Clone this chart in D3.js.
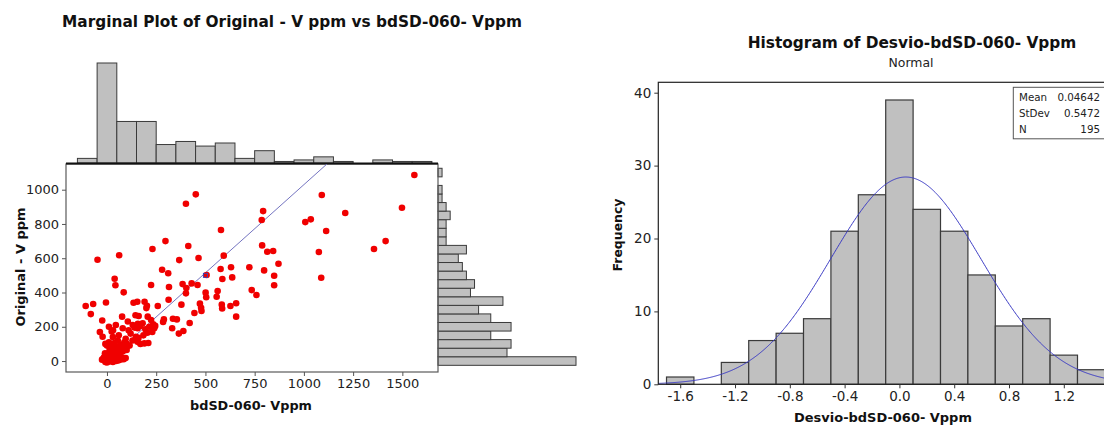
<!DOCTYPE html>
<html><head><meta charset="utf-8">
<script src="https://cdn.jsdelivr.net/npm/d3@7"></script>
<style>
body{margin:0;background:#fff}
svg{display:block}
text{font-family:"DejaVu Sans",Verdana,sans-serif}
</style>
</head><body>
<svg id="c" width="1104" height="426"></svg>
<script>
// ---------- Marginal plot data ----------
const scatterX = [-108,-70,-82,-48,-5,-24,-36,-22,62,39,43,85,31,24,77,106,135,154,145,161,157,191,200,203,224,231,258,280,297,311,315,313,285,289,331,335,355,365,388,378,367,384,401,413,401,403,451,465,430,444,420,460,472,478,480,506,501,504,562,557,579,593,577,586,583,585,630,636,627,656,656,723,735,759,786,793,788,798,814,844,849,849,871,1007,1035,1091,1113,1076,1088,1210,1356,1415,1498,1561,
207,80,131,156,224,240,190,147,181,
-12,-8,-5,-3,0,2,6,10,14,18,22,26,30,34,38,42,46,50,55,60,65,70,35,40,-18,-15,-1,5,16,45,75,85,95,-25,
5,12,20,28,35,42,48,55,62,70,80,90,-10,-5,15,100,30,
0,10,18,25,38,45,55,68,75,88,100,115,130,155,170,210,-8,
30,60,95,120,160,185,205,230,
10,45,110,140,170,195,215,235,245];
const scatterY = [321,333,274,591,342,237,169,142,617,480,442,401,179,173,259,231,340,346,267,263,218,346,309,323,444,654,321,533,700,512,432,358,228,243,191,247,243,160,175,329,589,449,918,671,395,426,973,601,453,280,222,444,335,311,292,502,399,372,409,375,765,615,537,479,329,307,547,488,321,337,259,547,414,385,823,875,675,529,638,642,498,442,568,811,827,969,759,636,486,864,654,700,895,1086,
259,191,210,191,239,191,103,142,220,
5,-5,12,2,-8,18,6,-2,14,22,3,10,-6,20,8,15,0,22,12,4,18,9,21,2,15,22,20,24,1,14,20,10,18,8,
40,55,35,62,45,30,68,50,40,60,55,70,45,30,70,65,28,
90,110,80,95,105,85,120,95,80,110,100,90,120,112,100,105,100,
140,150,130,160,135,150,165,170,
200,210,180,195,205,185,200,215,205];
const refLineX = [0, 1117];
const refLineY = [0, 1150];
const refMarkX = [500];
const refMarkY = [500];
const xTicks = [0,250,500,750,1000,1250,1500];
const yTicks = [0,200,400,600,800,1000];
const topCenters = [-100,0,100,200,300,400,500,600,700,800,900,1000,1100,1200,1300,1400,1500,1600];
const topCounts  = [3,65,27,27,12,14,11,13,3,8,1,2,4,1,0,2,1,1];
const rightCenters = [0,50,100,150,200,250,300,350,400,450,500,550,600,650,700,750,800,850,900,950,1000,1050,1100];
const rightCounts  = [34,17,18,13,18,13,10,16,8,9,7,6,5,7,2,2,2,3,2,1,1,0,1];

// ---------- Histogram data ----------
const histCenters = [-1.6,-1.4,-1.2,-1.0,-0.8,-0.6,-0.4,-0.2,0.0,0.2,0.4,0.6,0.8,1.0,1.2,1.4];
const histCounts  = [1,0,3,6,7,9,21,26,39,24,21,15,8,9,4,2];
const histXTicks = [-1.6,-1.2,-0.8,-0.4,0.0,0.4,0.8,1.2];
const histYTicks = [0,10,20,30,40];
const statLabels = ["Mean","StDev","N"];
const statValues = ["0.04642","0.5472","195"];
const fitMean = 0.04642, fitSd = 0.5472, fitN = 195, binW = 0.2;

const svg = d3.select("#c");
svg.append("rect").attr("width",1104).attr("height",426).attr("fill","#fff");

function fit(sel, w){
  const n = sel.node();
  const fs = parseFloat(sel.attr("font-size"));
  const len = n.getComputedTextLength();
  sel.attr("font-size", (fs*w/len).toFixed(2));
  return sel;
}

const BAR_FILL = "#c0c0c0", BAR_STROKE = "#3a3a3a", TXT = "#222";

// ===== Left: marginal plot =====
const L = {l:66, r:438, t:164, b:372};
const xS = d3.scaleLinear().domain([-208,1681]).range([L.l, L.r]);
const yS = d3.scaleLinear().domain([-64,1150]).range([L.b, L.t]);
const gL = svg.append("g");

// top marginal histogram
const topH = d3.scaleLinear().domain([0,65]).range([0,100]);
gL.append("g").selectAll("rect").data(topCenters.map((c,i)=>({c,n:topCounts[i]})).filter(d=>d.n>0))
  .join("rect")
  .attr("x", d=>xS(d.c-50)).attr("width", d=>xS(d.c+50)-xS(d.c-50))
  .attr("y", d=>L.t-1-topH(d.n)).attr("height", d=>topH(d.n))
  .attr("fill", BAR_FILL).attr("stroke", BAR_STROKE).attr("stroke-width",1);

// right marginal histogram
const rightW = d3.scaleLinear().domain([0,34]).range([0,138]);
gL.append("g").selectAll("rect").data(rightCenters.map((c,i)=>({c,n:rightCounts[i]})).filter(d=>d.n>0))
  .join("rect")
  .attr("x", L.r).attr("width", d=>rightW(d.n))
  .attr("y", d=>yS(d.c+25)).attr("height", d=>yS(d.c-25)-yS(d.c+25))
  .attr("fill", BAR_FILL).attr("stroke", BAR_STROKE).attr("stroke-width",1);

// frame
gL.append("rect").attr("x",L.l).attr("y",L.t).attr("width",L.r-L.l).attr("height",L.b-L.t)
  .attr("fill","none").attr("stroke","#5a5a5a").attr("stroke-width",1.2);
gL.append("line").attr("x1",L.l).attr("x2",L.r).attr("y1",L.t-0.5).attr("y2",L.t-0.5)
  .attr("stroke","#111").attr("stroke-width",2);

// reference line
const clipId = "clipL";
svg.append("clipPath").attr("id",clipId).append("rect")
  .attr("x",L.l).attr("y",L.t).attr("width",L.r-L.l).attr("height",L.b-L.t);
const gPlot = gL.append("g").attr("clip-path",`url(#${clipId})`);
gPlot.append("line")
  .attr("x1",xS(refLineX[0])).attr("y1",yS(refLineY[0]))
  .attr("x2",xS(refLineX[1])).attr("y2",yS(refLineY[1]))
  .attr("stroke","#7474c0").attr("stroke-width",1);

// points
gPlot.append("g").selectAll("circle").data(scatterX.map((x,i)=>[x,scatterY[i]]))
  .join("circle").attr("cx",d=>xS(d[0])).attr("cy",d=>yS(d[1])).attr("r",3.3)
  .attr("fill","#f00000");
gPlot.selectAll("rect.mk").data(refMarkX.map((x,i)=>[x,refMarkY[i]])).join("rect").attr("class","mk")
  .attr("x",d=>xS(d[0])-2).attr("y",d=>yS(d[1])-2).attr("width",4).attr("height",4)
  .attr("fill","none").attr("stroke","#4040b0").attr("stroke-width",1);

// axes
const axB = gL.append("g").attr("transform",`translate(0,${L.b})`)
  .call(d3.axisBottom(xS).tickValues(xTicks).tickSize(4).tickPadding(3).tickFormat(d3.format("d")));
const axLft = gL.append("g").attr("transform",`translate(${L.l},0)`)
  .call(d3.axisLeft(yS).tickValues(yTicks).tickSize(4).tickPadding(3).tickFormat(d3.format("d")));
[axB, axLft].forEach(a=>{
  a.select(".domain").remove();
  a.selectAll(".tick line").attr("stroke","#555");
  a.selectAll(".tick text").attr("fill",TXT).attr("font-size",13)
   .attr("font-family",'"DejaVu Sans",sans-serif');
});

// titles / labels
fit(svg.append("text").attr("x",292).attr("y",27).attr("text-anchor","middle")
  .attr("font-weight","bold").attr("font-size",13).attr("fill","#111")
  .text("Marginal Plot of Original - V ppm vs bdSD-060- Vppm"), 460);
fit(svg.append("text").attr("x",251).attr("y",410).attr("text-anchor","middle")
  .attr("font-weight","bold").attr("font-size",13).attr("fill","#111")
  .text("bdSD-060- Vppm"), 122);
fit(svg.append("text").attr("transform","translate(25,267) rotate(-90)").attr("text-anchor","middle")
  .attr("font-weight","bold").attr("font-size",13).attr("fill","#111")
  .text("Original - V ppm"), 119);

// ===== Right: histogram =====
const R = {l:658.3, r:1118.6, t:82.3, b:384.3};
const hx = d3.scaleLinear().domain([-1.76,1.6]).range([R.l, R.r]);
const hy = d3.scaleLinear().domain([0,40]).range([R.b, 92.7]);
const gR = svg.append("g");

gR.append("g").selectAll("rect").data(histCenters.map((c,i)=>({c,n:histCounts[i]})).filter(d=>d.n>0))
  .join("rect")
  .attr("x",d=>hx(d.c-binW/2)).attr("width",d=>hx(d.c+binW/2)-hx(d.c-binW/2))
  .attr("y",d=>hy(d.n)).attr("height",d=>hy(0)-hy(d.n))
  .attr("fill",BAR_FILL).attr("stroke",BAR_STROKE).attr("stroke-width",1.2);

// fitted normal curve (from the displayed Mean / StDev / N)
const xs = d3.range(R.l, R.r, 1).map(p=>hx.invert(p));
const curve = xs.map(x=>[x, fitN*binW*Math.exp(-0.5*((x-fitMean)/fitSd)**2)/(fitSd*Math.sqrt(2*Math.PI))]);
gR.append("path").datum(curve)
  .attr("d", d3.line().x(d=>hx(d[0])).y(d=>hy(d[1])))
  .attr("fill","none").attr("stroke","#3a3ac4").attr("stroke-width",1);

gR.append("rect").attr("x",R.l).attr("y",R.t).attr("width",R.r-R.l).attr("height",R.b-R.t)
  .attr("fill","none").attr("stroke","#222").attr("stroke-width",1.2);

const hB = gR.append("g").attr("transform",`translate(0,${R.b})`)
  .call(d3.axisBottom(hx).tickValues(histXTicks).tickSize(4).tickPadding(3).tickFormat(d=>d.toFixed(1)));
const hL = gR.append("g").attr("transform",`translate(${R.l},0)`)
  .call(d3.axisLeft(hy).tickValues(histYTicks).tickSize(4).tickPadding(3).tickFormat(d3.format("d")));
[hB,hL].forEach(a=>{
  a.select(".domain").remove();
  a.selectAll(".tick line").attr("stroke","#333");
  a.selectAll(".tick text").attr("fill",TXT).attr("font-size",13.5)
   .attr("font-family",'"DejaVu Sans",sans-serif');
});

fit(svg.append("text").attr("x",912).attr("y",48).attr("text-anchor","middle")
  .attr("font-weight","bold").attr("font-size",14).attr("fill","#111")
  .text("Histogram of Desvio-bdSD-060- Vppm"), 329);
fit(svg.append("text").attr("x",911).attr("y",66.5).attr("text-anchor","middle")
  .attr("font-size",12).attr("fill",TXT).text("Normal"), 45);
fit(svg.append("text").attr("x",883).attr("y",422).attr("text-anchor","middle")
  .attr("font-weight","bold").attr("font-size",13).attr("fill","#111")
  .text("Desvio-bdSD-060- Vppm"), 178);
fit(svg.append("text").attr("transform","translate(622,235) rotate(-90)").attr("text-anchor","middle")
  .attr("font-weight","bold").attr("font-size",12.5).attr("fill","#111")
  .text("Frequency"), 73);

// stats box
const box = gR.append("g");
box.append("rect").attr("x",1013.3).attr("y",87.3).attr("width",100).attr("height",51.5)
  .attr("fill","#fff").attr("stroke","#555").attr("stroke-width",1);
statLabels.forEach((s,i)=>{
  box.append("text").attr("x",1019).attr("y",101+i*16).attr("font-size",10.3).attr("fill",TXT).text(s);
  box.append("text").attr("x",1100).attr("y",101+i*16).attr("text-anchor","end").attr("font-size",10.3).attr("fill",TXT).text(statValues[i]);
});
</script>
</body></html>
